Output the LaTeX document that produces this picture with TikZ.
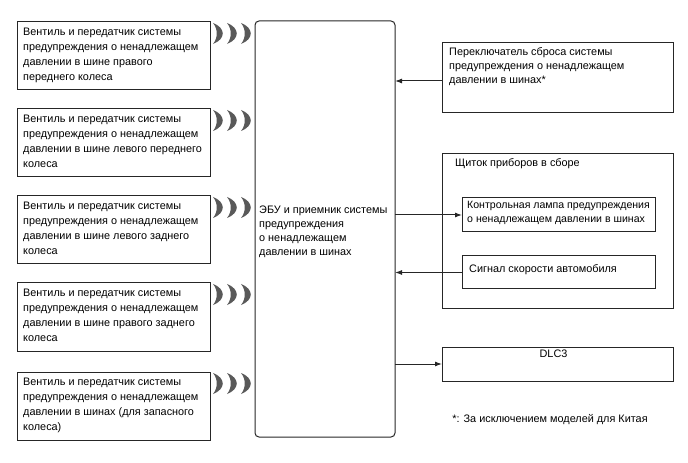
\documentclass[tikz,border=0pt]{standalone}
\usepackage{fontspec}
\setmainfont{Liberation Sans}
\usetikzlibrary{arrows.meta}
\newcommand{\fsz}{\fontsize{10.9}{15}\selectfont}
\newcommand{\fsy}{\fontsize{10.9}{14}\selectfont}
\newcommand{\fsl}{\fontsize{10.6}{14}\selectfont}
\tikzset{
  box/.style={draw=black!85, line width=1bp, inner sep=0pt, outer sep=0pt, anchor=north west},
  lbl/.style={anchor=north west, align=left, inner sep=0pt, font=\fsz},
  lbly/.style={anchor=north west, align=left, inner sep=0pt, font=\fsy},
  arr/.style={line width=1bp, draw=black!85, -{Latex[length=7bp,width=5bp]}},
  wave/.style={fill=black!65, draw=none}
}
\newcommand{\waves}[1]{%
  \foreach \dx in {0,14,28}{%
    \fill[wave] ([xshift=\dx bp]#1) .. controls +(13bp,5bp) and +(13bp,-5bp) .. ++(0,21bp)
      .. controls +(5bp,-6bp) and +(5bp,6bp) .. ++(0,-21bp) -- cycle;
  }%
}
\begin{document}
\begin{tikzpicture}[x=1bp,y=-1bp]
\useasboundingbox (0,0) rectangle (688,463);
% left boxes
\node[box, minimum width=193bp, minimum height=68bp] (w1) at (17,22) {};
\node[box, minimum width=193bp, minimum height=68bp] (w2) at (17,109) {};
\node[box, minimum width=193bp, minimum height=68bp] (w3) at (17,196) {};
\node[box, minimum width=193bp, minimum height=68bp] (w4) at (17,283) {};
\node[box, minimum width=193bp, minimum height=68bp] (w5) at (17,372) {};
\node[lbl] (t1) at ([xshift=6bp,yshift=-6bp]w1.north west) {Вентиль и передатчик системы\\предупреждения о ненадлежащем\\давлении в шине правого\\переднего колеса};
\node[lbl] (t2) at ([xshift=6bp,yshift=-6bp]w2.north west) {Вентиль и передатчик системы\\предупреждения о ненадлежащем\\давлении в шине левого переднего\\колеса};
\node[lbl] (t3) at ([xshift=6bp,yshift=-6bp]w3.north west) {Вентиль и передатчик системы\\предупреждения о ненадлежащем\\давлении в шине левого заднего\\колеса};
\node[lbl] (t4) at ([xshift=6bp,yshift=-6bp]w4.north west) {Вентиль и передатчик системы\\предупреждения о ненадлежащем\\давлении в шине правого заднего\\колеса};
\node[lbl] (t5) at ([xshift=6bp,yshift=-6bp]w5.north west) {Вентиль и передатчик системы\\предупреждения о ненадлежащем\\давлении в шинах (для запасного\\колеса)};
% waves
\coordinate (c1) at ([xshift=3bp,yshift=12bp]w1.east);
\coordinate (c2) at ([xshift=3bp,yshift=12bp]w2.east);
\coordinate (c3) at ([xshift=3bp,yshift=12bp]w3.east);
\coordinate (c4) at ([xshift=3bp,yshift=12bp]w4.east);
\coordinate (c5) at ([xshift=3bp,yshift=12bp]w5.east);
\waves{c1}\waves{c2}\waves{c3}\waves{c4}\waves{c5}
% ECU
\node[box, rounded corners=4bp, minimum width=140bp, minimum height=416bp] (ecu) at (255,21) {};
\node[lbly] (ecut) at (259,206) {ЭБУ и приемник системы\\предупреждения\\о ненадлежащем\\давлении в шинах};
% right side
\node[box, minimum width=231bp, minimum height=70bp] (reset) at (442,43) {};
\node[lbly] (resett) at ([xshift=7bp,yshift=-4bp]reset.north west) {Переключатель сброса системы\\предупреждения о ненадлежащем\\давлении в шинах*};
\node[box, minimum width=231bp, minimum height=154bp] (cl) at (442,154) {};
\node[lbly] (clt) at ([xshift=13bp,yshift=-4bp]cl.north west) {Щиток приборов в сборе};
\node[box, minimum width=193bp, minimum height=34bp] (lamp) at (462,198) {};
\node[lbly, font=\fsl] (lampt) at ([xshift=5bp,yshift=-3bp]lamp.north west) {Контрольная лампа предупреждения\\о ненадлежащем давлении в шинах};
\node[box, minimum width=193bp, minimum height=33bp] (spd) at (462,256) {};
\node[lbly] (spdt) at ([xshift=7bp,yshift=-8bp]spd.north west) {Сигнал скорости автомобиля};
\node[box, minimum width=231bp, minimum height=34bp] (dlc) at (442,347) {};
\node[lbly, anchor=north] (dlct) at ([xshift=-4bp,yshift=-3bp]dlc.north) {DLC3};
\node[lbly, anchor=center] (note) at (550,420) {*: За исключением моделей для Китая};
% arrows
\draw[arr] ([yshift=-3bp]reset.west) -- ([yshift=-3bp]reset.west -| ecu.east);
\draw[arr] (lamp.west -| ecu.east) -- (lamp.west);
\draw[arr] (spd.west) -- (spd.west -| ecu.east);
\draw[arr] (dlc.west -| ecu.east) -- (dlc.west);
\end{tikzpicture}
\end{document}
